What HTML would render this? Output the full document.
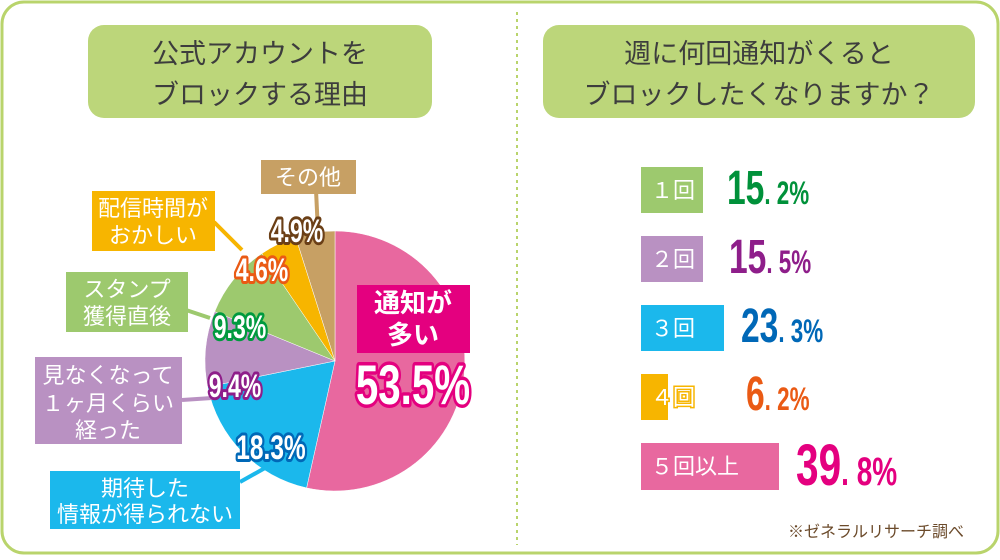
<!DOCTYPE html>
<html><head><meta charset="utf-8"><style>
body{margin:0;background:#fff;}
svg text{font-family:"Liberation Sans","Noto Sans CJK JP",sans-serif;}
.lab{fill:#fff;font-size:22px;}
.num{font-family:"Liberation Sans",sans-serif;font-weight:bold;paint-order:stroke;stroke-linejoin:round;fill:#fff;}
</style></head><body>
<svg width="1000" height="555" viewBox="0 0 1000 555" xmlns="http://www.w3.org/2000/svg">
<rect x="2" y="2" width="996" height="551" rx="22" fill="#fff" stroke="#b9d46c" stroke-width="3"/>
<line x1="517" y1="12" x2="517" y2="545" stroke="#b9d46c" stroke-width="2" stroke-dasharray="3,4"/>
<rect x="88" y="25" width="344" height="93" rx="16" fill="#bcd67a"/>
<text x="260" y="63" text-anchor="middle" font-size="27" fill="#3d3d3d">公式アカウントを</text>
<text x="260" y="104" text-anchor="middle" font-size="27" fill="#3d3d3d">ブロックする理由</text>
<rect x="543" y="25" width="432" height="93" rx="16" fill="#bcd67a"/>
<text x="759" y="63" text-anchor="middle" font-size="27" fill="#3d3d3d">週に何回通知がくると</text>
<text x="759" y="104" text-anchor="middle" font-size="27" fill="#3d3d3d">ブロックしたくなりますか？</text>
<g stroke="#fff" stroke-width="0.5">
<path d="M335,361 L335,231 A130,130 0 1 1 306.6,487.9 Z" fill="#e8689f"/>
<path d="M335,361 L306.6,487.9 A130,130 0 0 1 207.6,386.9 Z" fill="#1bb8ec"/>
<path d="M335,361 L207.6,386.9 A130,130 0 0 1 214.7,311.6 Z" fill="#b991c2"/>
<path d="M335,361 L214.7,311.6 A130,130 0 0 1 261.9,253.5 Z" fill="#9dc96e"/>
<path d="M335,361 L261.9,253.5 A130,130 0 0 1 295.7,237.1 Z" fill="#f7b500"/>
<path d="M335,361 L295.7,237.1 A130,130 0 0 1 335,231 Z" fill="#c7a064"/>
</g>
<line x1="316" y1="190" x2="318" y2="232" stroke="#c7a064" stroke-width="4"/>
<line x1="214" y1="222" x2="242" y2="250" stroke="#f7b500" stroke-width="4"/>
<line x1="186" y1="310" x2="210" y2="318" stroke="#9dc96e" stroke-width="4"/>
<line x1="182" y1="400" x2="212" y2="398" stroke="#b991c2" stroke-width="4"/>
<line x1="240" y1="482" x2="265" y2="468" stroke="#1bb8ec" stroke-width="4"/>
<rect x="261" y="160" width="95" height="34" fill="#c7a064"/>
<text x="308" y="185" text-anchor="middle" class="lab">その他</text>
<rect x="92" y="191" width="123" height="60" fill="#f7b500"/>
<text x="153" y="216" text-anchor="middle" class="lab">配信時間が</text>
<text x="153" y="243" text-anchor="middle" class="lab">おかしい</text>
<rect x="66" y="272" width="122" height="60" fill="#9dc96e"/>
<text x="127" y="297" text-anchor="middle" class="lab">スタンプ</text>
<text x="127" y="324" text-anchor="middle" class="lab">獲得直後</text>
<rect x="35" y="357" width="147" height="87" fill="#b991c2"/>
<text x="108" y="383" text-anchor="middle" class="lab">見なくなって</text>
<text x="108" y="411" text-anchor="middle" class="lab">１ヶ月くらい</text>
<text x="108" y="438" text-anchor="middle" class="lab">経った</text>
<rect x="50" y="471" width="190" height="58" fill="#1bb8ec"/>
<text x="145" y="496" text-anchor="middle" class="lab">期待した</text>
<text x="145" y="522" text-anchor="middle" class="lab">情報が得られない</text>
<rect x="357" y="285" width="113" height="68" fill="#e4007f"/>
<text x="413" y="312" text-anchor="middle" font-size="26" font-weight="bold" fill="#fff">通知が</text>
<text x="413" y="344" text-anchor="middle" font-size="26" font-weight="bold" fill="#fff">多い</text>
<text x="297" y="242" text-anchor="middle" class="num" font-size="32" stroke="#6b3f16" stroke-width="6" transform="translate(297,242) scale(0.72,1) translate(-297,-242)">4.9%</text>
<text x="262" y="281" text-anchor="middle" class="num" font-size="32" stroke="#ea5a14" stroke-width="6" transform="translate(262,281) scale(0.72,1) translate(-262,-281)">4.6%</text>
<text x="240" y="338" text-anchor="middle" class="num" font-size="32" stroke="#009a3e" stroke-width="6" transform="translate(240,338) scale(0.72,1) translate(-240,-338)">9.3%</text>
<text x="235" y="397" text-anchor="middle" class="num" font-size="32" stroke="#8e1e8a" stroke-width="6" transform="translate(235,397) scale(0.72,1) translate(-235,-397)">9.4%</text>
<text x="271" y="459" text-anchor="middle" class="num" font-size="34" stroke="#0068b7" stroke-width="6" transform="translate(271,459) scale(0.72,1) translate(-271,-459)">18.3%</text>
<text x="413" y="404" text-anchor="middle" class="num" font-size="56" stroke="#e4007f" stroke-width="7" transform="translate(413,404) scale(0.72,1) translate(-413,-404)">53.5%</text>
<rect x="641" y="167" width="62" height="46" fill="#9dc96e"/>
<text x="651" y="198" class="lab" font-size="19">１回</text>
<rect x="641" y="236" width="62" height="46" fill="#b991c2"/>
<text x="651" y="267" class="lab" font-size="19">２回</text>
<rect x="641" y="305" width="83" height="46" fill="#1bb8ec"/>
<text x="651" y="336" class="lab" font-size="19">３回</text>
<rect x="641" y="374" width="27" height="46" fill="#f7b500"/>
<text x="651" y="405" class="lab" font-size="19" stroke="#f7b500" stroke-width="3" paint-order="stroke">４回</text>
<rect x="641" y="443" width="138" height="47" fill="#e8689f"/>
<text x="651" y="474" class="lab" font-size="19">５回以上</text>
<g font-family="Liberation Sans" font-weight="bold">
<text x="727" y="204" font-size="48" fill="#00913a" transform="translate(727,204) scale(0.7,1) translate(-727,-204)">15<tspan font-size="32">. 2%</tspan></text>
<text x="729" y="273" font-size="48" fill="#8e1e8a" transform="translate(729,273) scale(0.7,1) translate(-729,-273)">15<tspan font-size="32">. 5%</tspan></text>
<text x="741" y="342" font-size="48" fill="#0068b7" transform="translate(741,342) scale(0.7,1) translate(-741,-342)">23<tspan font-size="32">. 3%</tspan></text>
<text x="746" y="410" font-size="48" fill="#ea5a14" transform="translate(746,410) scale(0.7,1) translate(-746,-410)">6<tspan font-size="32">. 2%</tspan></text>
<text x="796" y="485" font-size="58" fill="#e4007f" transform="translate(796,485) scale(0.7,1) translate(-796,-485)">39<tspan font-size="40">. 8%</tspan></text>
</g>
<text x="964" y="537" text-anchor="end" font-size="16" fill="#6b4a2a">※ゼネラルリサーチ調べ</text>
</svg>
</body></html>
